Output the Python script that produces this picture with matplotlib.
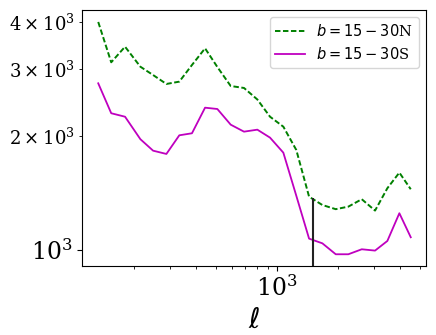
import matplotlib
matplotlib.use("Agg")
import matplotlib.pyplot as plt

plt.rcParams['font.family'] = 'serif'

ell = [133, 154, 180, 214, 247, 287, 332, 383, 444, 510, 593, 689, 801,
       924, 1074, 1243, 1436, 1668, 1940, 2236, 2602, 3023, 3473, 3977, 4523]
north = [3997, 3128, 3439, 3045, 2895, 2742, 2781, 3077, 3405, 3040, 2708,
         2676, 2495, 2247, 2115, 1836, 1382, 1314, 1281, 1301, 1361, 1270,
         1455, 1600, 1446]
south = [2753, 2295, 2247, 1960, 1828, 1792, 2007, 2032, 2374, 2355, 2141,
         2052, 2077, 1979, 1806, 1390, 1071, 1041, 974, 974, 1004, 996,
         1056, 1250, 1080]
ell_cut = 1500
cut_top = 1375

fig = plt.figure(figsize=(4.36, 3.35), dpi=100)
ax = fig.add_axes([0.188, 0.206, 0.789, 0.764])
ax.plot(ell, north, color='g', ls=(0, (2.8, 1.3)), lw=1.4, label=r'$b=15-30$N')
ax.plot(ell, south, 'm-', lw=1.3, label=r'$b=15-30$S')
ax.vlines(ell_cut, 800, cut_top, color='#222222', lw=1.5)
ax.set_xscale('log')
ax.set_yscale('log')
ax.set_xlim(110.7, 5370)
ax.set_ylim(907, 4297)
ax.tick_params(which='major', labelsize=17)
ax.tick_params(which='minor', labelsize=13)
ax.set_xlabel(r'$\ell$', fontsize=20)
ax.legend(loc='upper right', fontsize=10.5)
fig.savefig('out.png', dpi=100)
